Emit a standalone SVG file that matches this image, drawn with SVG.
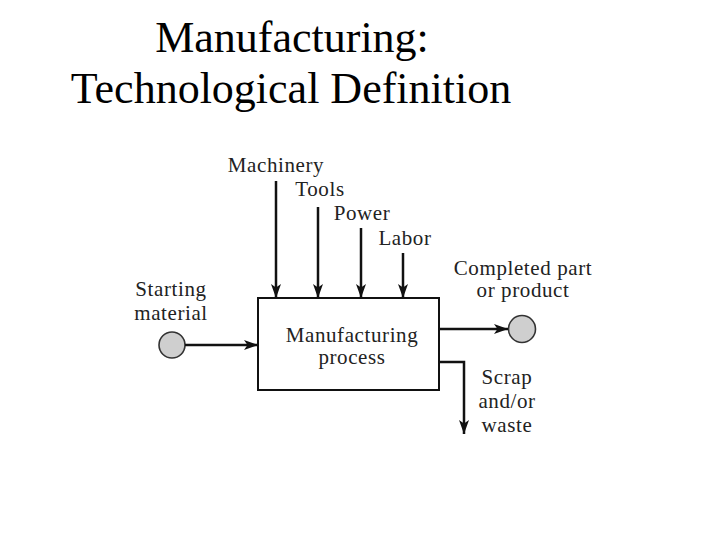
<svg xmlns="http://www.w3.org/2000/svg" width="720" height="540" viewBox="0 0 720 540">
<defs>
<style>
.title{font-family:"Liberation Serif","Times New Roman",serif;font-size:44px;fill:#000;text-anchor:middle}
.lbl{font-family:"Liberation Serif","Times New Roman",serif;font-size:21px;fill:#222;text-anchor:middle;letter-spacing:0.6px}
.ln{stroke:#111;stroke-width:2.5;fill:none}
.dot{fill:#cfcfcf;stroke:#333;stroke-width:1.6}
</style>
<marker id="ah" viewBox="0 0 14 10" refX="14" refY="5" markerWidth="14" markerHeight="10" markerUnits="userSpaceOnUse" orient="auto">
<path d="M0,0 L14,5 L0,10 L3.5,5 z" fill="#111"/>
</marker>
</defs>
<rect width="720" height="540" fill="#fff"/>
<g id="title">
<text class="title" x="292" y="52">Manufacturing:</text>
<text class="title" x="291" y="103">Technological Definition</text>
</g>
<g id="process">
<rect x="258" y="298" width="181" height="92" fill="#fff" stroke="#111" stroke-width="2"/>
<text class="lbl" x="352" y="342">Manufacturing</text>
<text class="lbl" x="352" y="364">process</text>
</g>
<g id="machinery"><text class="lbl" x="276" y="172">Machinery</text></g>
<g id="tools"><text class="lbl" x="320" y="196">Tools</text></g>
<g id="power"><text class="lbl" x="362" y="220">Power</text></g>
<g id="labor"><text class="lbl" x="405" y="245">Labor</text></g>
<g id="start">
<text class="lbl" x="171" y="296">Starting</text>
<text class="lbl" x="171" y="320">material</text>
<circle class="dot" cx="172" cy="345" r="13"/>
</g>
<g id="product">
<text class="lbl" x="523" y="275">Completed part</text>
<text class="lbl" x="523" y="297">or product</text>
<circle class="dot" cx="522" cy="329" r="13.5"/>
</g>
<g id="scrap">
<text class="lbl" x="507" y="384">Scrap</text>
<text class="lbl" x="507" y="408">and/or</text>
<text class="lbl" x="507" y="432">waste</text>
</g>
<g id="connectors">
<line class="ln" x1="276" y1="181" x2="276" y2="298" marker-end="url(#ah)"/>
<line class="ln" x1="318" y1="207" x2="318" y2="298" marker-end="url(#ah)"/>
<line class="ln" x1="361" y1="228" x2="361" y2="298" marker-end="url(#ah)"/>
<line class="ln" x1="403" y1="253" x2="403" y2="298" marker-end="url(#ah)"/>
<line class="ln" x1="185" y1="345" x2="258" y2="345" marker-end="url(#ah)"/>
<line class="ln" x1="439" y1="329" x2="508" y2="329" marker-end="url(#ah)"/>
<polyline class="ln" points="439,362 464,362 464,434" marker-end="url(#ah)"/>
</g>
</svg>
